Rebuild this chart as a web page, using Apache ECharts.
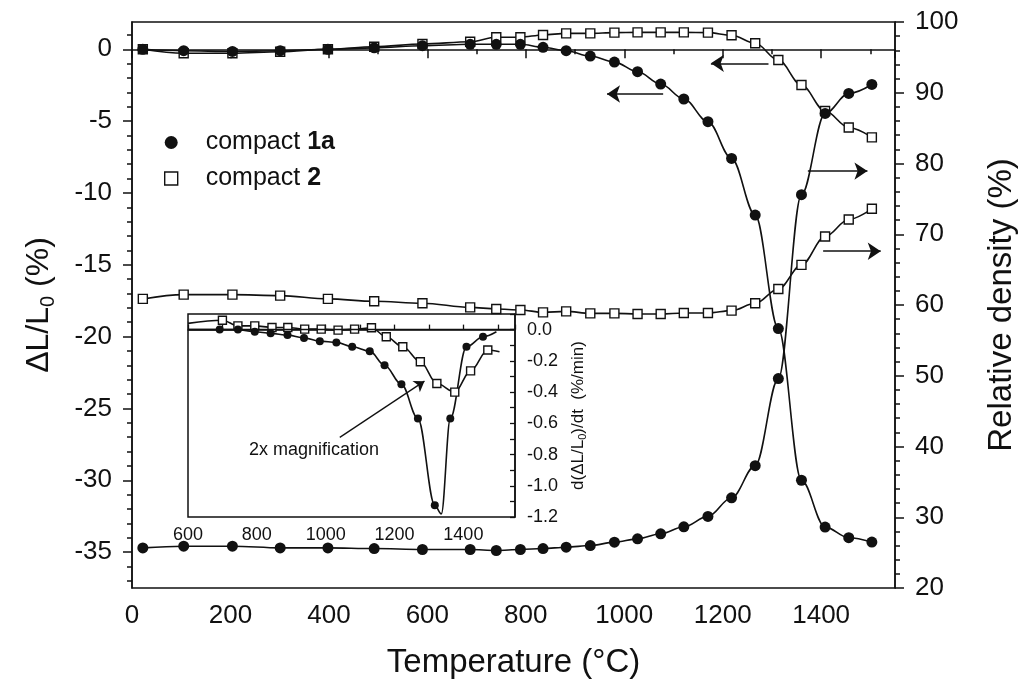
<!DOCTYPE html>
<html>
<head>
<meta charset="utf-8">
<script src="https://cdn.jsdelivr.net/npm/echarts@6/dist/echarts.min.js"></script>
<style>
  html, body { margin: 0; padding: 0; background: #fff; }
  #chart { width: 1026px; height: 689px; }
</style>
</head>
<body>
<div id="chart"></div>
<script>
// main plot: temperature of the marked points (°C)
var tempMain = [22, 105, 204, 301, 398, 492, 590, 687, 740, 789, 835, 882, 931, 980, 1027, 1074, 1121, 1170, 1218, 1266, 1313, 1360, 1408, 1456, 1503];
// ΔL/L0 (%)
var shrink1a = [0, -0.1, -0.15, -0.1, 0, 0.1, 0.25, 0.35, 0.35, 0.35, 0.14, -0.1, -0.47, -0.89, -1.56, -2.42, -3.46, -5.04, -7.6, -11.54, -19.44, -30.0, -33.26, -34.0, -34.3];
var shrink2 = [0, -0.28, -0.28, -0.17, 0, 0.18, 0.37, 0.53, 0.84, 0.84, 1.0, 1.11, 1.11, 1.16, 1.18, 1.18, 1.18, 1.16, 0.98, 0.42, -0.75, -2.49, -4.3, -5.44, -6.13];
// relative density (%)
var density1a = [25.67, 25.91, 25.91, 25.67, 25.67, 25.58, 25.44, 25.44, 25.3, 25.44, 25.58, 25.77, 26.0, 26.48, 26.95, 27.66, 28.65, 30.12, 32.75, 37.29, 49.6, 75.6, 87.07, 89.9, 91.17];
var density2 = [60.86, 61.47, 61.47, 61.33, 60.86, 60.52, 60.24, 59.67, 59.44, 59.3, 58.96, 59.1, 58.82, 58.82, 58.73, 58.73, 58.87, 58.87, 59.2, 60.24, 62.27, 65.67, 69.68, 72.09, 73.6];

// inset: d(ΔL/L0)/dt (%/min)
var tempRate1a = [600, 692, 745, 794, 840, 889, 937, 983, 1031, 1077, 1128, 1171, 1220, 1268, 1317, 1336, 1362, 1409, 1457, 1496];
var rate1a = [0.0, 0.0, 0.0, -0.014, -0.024, -0.035, -0.053, -0.074, -0.082, -0.11, -0.138, -0.228, -0.35, -0.57, -1.125, -1.18, -0.57, -0.11, -0.046, -0.014];
var tempRate2 = [600, 700, 745, 794, 844, 890, 939, 987, 1036, 1084, 1133, 1176, 1224, 1275, 1323, 1375, 1421, 1471, 1505];
var rate2 = [0.04, 0.06, 0.024, 0.024, 0.014, 0.014, 0.003, 0.003, -0.003, 0.003, 0.012, -0.046, -0.11, -0.206, -0.345, -0.4, -0.264, -0.131, -0.142];
// inset points that are only part of the curve, without marker
var unmarked1a = [600, 1336, 1496];
var unmarked2 = [600, 1505];

// tick labels of the left axis
var leftTicks = [-35, -30, -25, -20, -15, -10, -5, 0];

var FONT = 'Liberation Sans, Arial, sans-serif';
var INK = '#111';

function pairs(xs, ys) {
	return xs.map(function(x, i) { return [x, ys[i]]; });
}
function curve(xs, ys, plain) {
	return xs.map(function(x, i) {
		if (plain.indexOf(x) >= 0) return { value: [x, ys[i]], symbol: 'none' };
		return [x, ys[i]];
	});
}
function arrow(x1, x2, y) {
	return [{ coord: [x1, y] }, { coord: [x2, y] }];
}
function plainNum(val) {
	return String(val);
}

var leftMinor = [];
for (var v = -37; v <= 1; v++) leftMinor.push(v);

var circle = { symbol: 'circle', symbolSize: 11, itemStyle: { color: INK } };
var square = { symbol: 'rect', symbolSize: 9, itemStyle: { color: '#fff', borderColor: INK, borderWidth: 1.4 } };
var arrowLine = {
	silent: true,
	symbol: ['none', 'arrow'],
	symbolSize: 13,
	label: { show: false },
	lineStyle: { color: INK, width: 1.6, type: 'solid' }
};

function lineSeries(name, data, mark, xi, yi, extra) {
	var s = {
		name: name,
		type: 'line',
		xAxisIndex: xi,
		yAxisIndex: yi,
		data: data,
		smooth: 0.35,
		smoothMonotone: 'x',
		showAllSymbol: true,
		symbol: mark.symbol,
		symbolSize: mark.symbolSize,
		itemStyle: mark.itemStyle,
		lineStyle: { color: INK, width: 1.6 },
		emphasis: { disabled: true },
		animation: false
	};
	for (var k in extra) s[k] = extra[k];
	return s;
}

var myChart = echarts.init(document.getElementById('chart'));
var option = {
	backgroundColor: '#fff',
	textStyle: { fontFamily: FONT, color: INK },
	grid: [
		{ left: 132, top: 22, right: 122, bottom: 101, show: true, borderColor: INK, borderWidth: 1.5 },
		{ left: 188, top: 314, width: 327, height: 203, show: true, borderColor: INK, borderWidth: 1.5 }
	],
	legend: {
		orient: 'vertical',
		left: 159,
		top: 125,
		itemGap: 11,
		itemWidth: 13,
		itemHeight: 13,
		selectedMode: false,
		data: [
			{ name: 'compact 1a', icon: 'circle', itemStyle: { color: INK, borderWidth: 0 } },
			{ name: 'compact 2', icon: 'rect', itemStyle: { color: '#fff', borderColor: INK, borderWidth: 1.4 } }
		],
		formatter: function(name) {
			var i = name.lastIndexOf(' ');
			return '{n|' + name.slice(0, i + 1) + '}{b|' + name.slice(i + 1) + '}';
		},
		textStyle: {
			rich: {
				n: { fontFamily: FONT, fontSize: 25, color: INK, padding: [0, 0, 0, 23] },
				b: { fontFamily: FONT, fontSize: 25, fontWeight: 'bold', color: INK }
			}
		}
	},
	xAxis: [
		{
			gridIndex: 0,
			type: 'value',
			min: 0,
			max: 1550,
			interval: 200,
			name: 'Temperature (°C)',
			nameLocation: 'middle',
			nameGap: 58,
			nameTextStyle: { fontFamily: FONT, fontSize: 33, color: INK },
			axisLine: { lineStyle: { color: INK, width: 1.5 } },
			axisTick: { length: 9, lineStyle: { color: INK, width: 1.5 } },
			minorTick: { show: true, splitNumber: 2, length: 5, lineStyle: { color: INK, width: 1.5 } },
			axisLabel: { fontFamily: FONT, fontSize: 26, color: INK, margin: 15, showMaxLabel: false, formatter: plainNum },
			splitLine: { show: false }
		},
		{
			gridIndex: 1,
			type: 'value',
			min: 600,
			max: 1550,
			interval: 200,
			axisLine: { lineStyle: { color: INK, width: 1.5 } },
			axisTick: { inside: true, length: 5, lineStyle: { color: INK, width: 1.3 } },
			minorTick: { show: true, splitNumber: 2, length: 5, lineStyle: { color: INK, width: 1.3 } },
			axisLabel: { fontFamily: FONT, fontSize: 18, color: INK, margin: 9, showMaxLabel: false, formatter: plainNum },
			splitLine: { show: false }
		}
	],
	yAxis: [
		{
			gridIndex: 0,
			type: 'value',
			position: 'left',
			min: -37.5,
			max: 1.9,
			name: '{t|ΔL/L}{s|0}{t| (%)}',
			nameLocation: 'middle',
			nameRotate: 90,
			nameGap: 74,
			nameTextStyle: {
				rich: {
					t: { fontFamily: FONT, fontSize: 32, color: INK, lineHeight: 38 },
					s: { fontFamily: FONT, fontSize: 20, color: INK, lineHeight: 20, verticalAlign: 'bottom' }
				}
			},
			axisLine: { show: true, lineStyle: { color: INK, width: 1.5 } },
			axisTick: { length: 9, customValues: leftTicks, lineStyle: { color: INK, width: 1.5 } },
			axisLabel: { fontFamily: FONT, fontSize: 26, color: INK, margin: 20, customValues: leftTicks },
			splitLine: { show: false }
		},
		{
			gridIndex: 0,
			type: 'value',
			position: 'right',
			min: 20,
			max: 100,
			interval: 10,
			name: 'Relative density (%)',
			nameLocation: 'middle',
			nameRotate: 90,
			nameGap: 90,
			nameTextStyle: { fontFamily: FONT, fontSize: 33, color: INK },
			axisLine: { show: true, lineStyle: { color: INK, width: 1.5 } },
			axisTick: { length: 9, lineStyle: { color: INK, width: 1.5 } },
			minorTick: { show: true, splitNumber: 5, length: 5, lineStyle: { color: INK, width: 1.5 } },
			axisLabel: { fontFamily: FONT, fontSize: 26, color: INK, margin: 20 },
			splitLine: { show: false }
		},
		{
			// minor ticks of the left axis
			gridIndex: 0,
			type: 'value',
			position: 'left',
			min: -37.5,
			max: 1.9,
			axisLine: { show: false },
			axisTick: { length: 5, customValues: leftMinor, lineStyle: { color: INK, width: 1.5 } },
			axisLabel: { show: false },
			splitLine: { show: false }
		},
		{
			gridIndex: 1,
			type: 'value',
			position: 'right',
			min: -1.2,
			max: 0.1,
			interval: 0.2,
			name: '{t|d(ΔL/L}{s|0}{t|)/dt  (%/min)}',
			nameLocation: 'middle',
			nameRotate: 90,
			nameGap: 53,
			nameTextStyle: {
				rich: {
					t: { fontFamily: FONT, fontSize: 17, color: INK, lineHeight: 20 },
					s: { fontFamily: FONT, fontSize: 11, color: INK, lineHeight: 11, verticalAlign: 'bottom' }
				}
			},
			axisLine: { show: true, lineStyle: { color: INK, width: 1.5 } },
			axisTick: { inside: true, length: 5, lineStyle: { color: INK, width: 1.3 } },
			minorTick: { show: true, splitNumber: 2, length: 5, lineStyle: { color: INK, width: 1.3 } },
			axisLabel: {
				fontFamily: FONT, fontSize: 18, color: INK, margin: 12,
				formatter: function(val) { return val.toFixed(1); }
			},
			splitLine: { show: false }
		}
	],
	graphic: [
		{
			type: 'text',
			left: 249,
			top: 441,
			style: { text: '2x magnification', fontFamily: FONT, fontSize: 18, fill: INK }
		}
	],
	series: [
		lineSeries('compact 2', pairs(tempMain, shrink2), square, 0, 0, {
			markLine: Object.assign({}, arrowLine, { data: [arrow(1293, 1176, -0.98)] })
		}),
		lineSeries('compact 2', pairs(tempMain, density2), square, 0, 1, {
			markLine: Object.assign({}, arrowLine, { data: [arrow(1404, 1521, 67.6)] })
		}),
		lineSeries('compact 1a', pairs(tempMain, shrink1a), circle, 0, 0, {
			markLine: Object.assign({}, arrowLine, { data: [arrow(1079, 965, -3.11)] })
		}),
		lineSeries('compact 1a', pairs(tempMain, density1a), circle, 0, 1, {
			markLine: Object.assign({}, arrowLine, { data: [arrow(1373, 1494, 78.93)] })
		}),
		lineSeries('compact 2', curve(tempRate2, rate2, unmarked2),
			{ symbol: 'rect', symbolSize: 8, itemStyle: square.itemStyle }, 1, 3, {}),
		lineSeries('compact 1a', curve(tempRate1a, rate1a, unmarked1a),
			{ symbol: 'circle', symbolSize: 8, itemStyle: circle.itemStyle }, 1, 3, {
			markLine: {
				silent: true,
				label: { show: false },
				symbol: ['none', 'none'],
				lineStyle: { color: INK, width: 1.3, type: 'solid' },
				data: [
					{ yAxis: 0 },
					[{ coord: [1041, -0.69], symbol: 'none' }, { coord: [1287, -0.33], symbol: 'arrow', symbolSize: 10 }]
				]
			}
		})
	]
};
myChart.setOption(option);
</script>
</body>
</html>
